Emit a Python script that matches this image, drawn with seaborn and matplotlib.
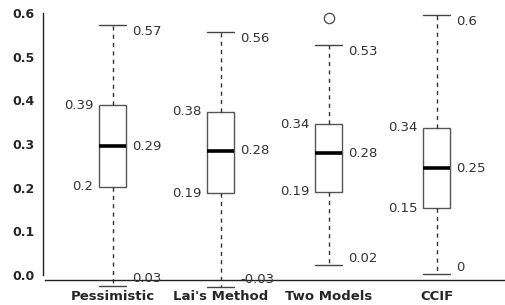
import numpy as np
import pandas as pd
import matplotlib
matplotlib.use("Agg")
import matplotlib.pyplot as plt
import seaborn as sns

methods = ["Pessimistic", "Lai's Method", "Two Models", "CCIF"]
lower = [-0.025, -0.027, 0.023, 0.002]
q1 = [0.202, 0.187, 0.191, 0.153]
median = [0.295, 0.284, 0.279, 0.245]
q3 = [0.389, 0.374, 0.345, 0.337]
upper = [0.573, 0.556, 0.527, 0.595]
outlier_method = ["Two Models"]
outlier_value = [0.588]

upper_text = ["0.57", "0.56", "0.53", "0.6"]
median_text = ["0.29", "0.28", "0.28", "0.25"]
q3_text = ["0.39", "0.38", "0.34", "0.34"]
q1_text = ["0.2", "0.19", "0.19", "0.15"]
lower_text = ["0.03", "-0.03", "0.02", "0"]
yticks = [0.0, 0.1, 0.2, 0.3, 0.4, 0.5, 0.6]

# five numbers per method -> quartiles of 5 points are exactly these
rows = []
for i, m in enumerate(methods):
    for v in [lower[i], q1[i], median[i], q3[i], upper[i]]:
        rows.append({"method": m, "value": v})
df = pd.DataFrame(rows)
out_df = pd.DataFrame({"method": outlier_method, "value": outlier_value})

sns.set_style("white")
plt.rcParams['font.family'] = ['DejaVu Sans']

fig = plt.figure(figsize=(5.06, 3.05), dpi=100)
ax = fig.add_axes([0, 0, 1, 1])
ax.patch.set_visible(False)

box_w = 0.25
edge = "#555555"
sns.boxplot(data=df, x="method", y="value", order=methods, width=box_w,
            whis=(0, 100), color="white", linecolor=edge, linewidth=1,
            showfliers=False, capwidths=box_w,
            medianprops={"color": "black", "linewidth": 2.6},
            whiskerprops={"linestyle": (0, (3, 3)), "color": "#333333"},
            capprops={"color": "#444444"}, ax=ax)
sns.scatterplot(data=out_df, x="method", y="value", marker="o", s=55,
                facecolor="white", edgecolor="#555555", linewidth=1, ax=ax)

ax.set_xlim(-1.046, 3.639)
ax.set_ylim(-0.0687, 0.6297)

txt = dict(fontsize=9.5, color="#333333", va="center")
for i in range(len(methods)):
    xr = i + box_w / 2
    xl = i - box_w / 2
    ax.annotate(upper_text[i], (xr, upper[i]), xytext=(4.3, -4.8), textcoords="offset points", ha="left", **txt)
    ax.annotate(median_text[i], (xr, median[i]), xytext=(4.3, 0), textcoords="offset points", ha="left", **txt)
    ax.annotate(lower_text[i], (xr, lower[i]), xytext=(4.3, 5.0), textcoords="offset points", ha="left", **txt)
    ax.annotate(q3_text[i], (xl, q3[i]), xytext=(-4.3, 0), textcoords="offset points", ha="right", **txt)
    ax.annotate(q1_text[i], (xl, q1[i]), xytext=(-4.3, 0), textcoords="offset points", ha="right", **txt)

for s in ["top", "right"]:
    ax.spines[s].set_visible(False)
ax.spines["left"].set_position(("data", -0.648))
ax.spines["left"].set_bounds(0, 0.6)
ax.spines["bottom"].set_position(("data", -0.0115))
ax.spines["bottom"].set_bounds(-0.63, 3.62)
for s in ["left", "bottom"]:
    ax.spines[s].set_color("#222222")
    ax.spines[s].set_linewidth(1)

ax.set_yticks(yticks)
ax.set_yticklabels([f"{t:.1f}" for t in yticks], fontweight="bold", fontsize=9)
ax.set_xticks([-0.63, 0, 1, 2, 3, 3.62])
ax.set_xticklabels([""] + methods + [""], fontweight="bold", fontsize=9.5)
ax.tick_params(axis="both", length=4, width=1, color="#222222", direction="out", pad=2)
ax.tick_params(axis="x", pad=3)
ax.set_xlabel("")
ax.set_ylabel("")

fig.savefig("out.png", dpi=100)
